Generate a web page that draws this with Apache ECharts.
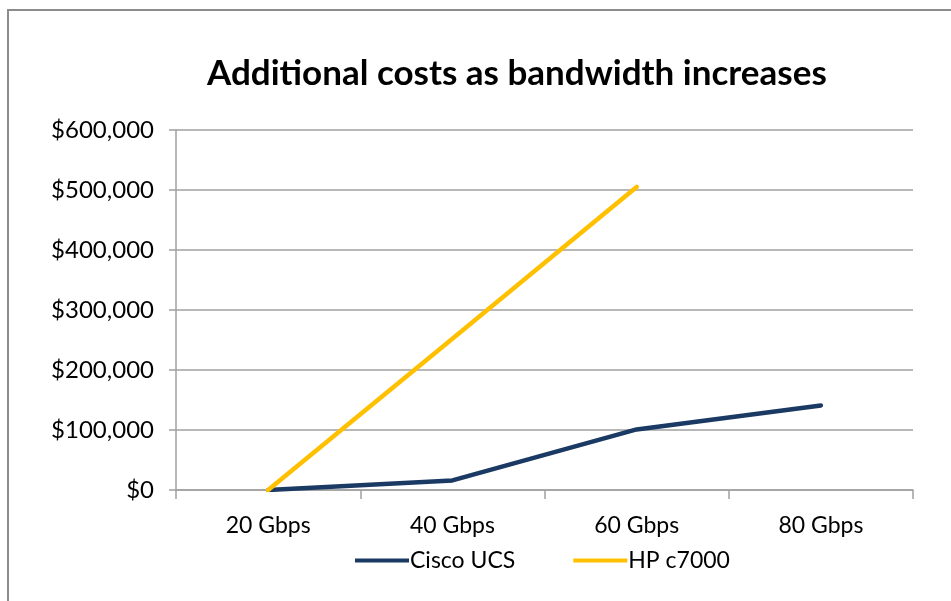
<!DOCTYPE html>
<html>
<head>
    <meta charset="utf-8">
    <title>Additional costs as bandwidth increases</title>
    <script src="https://cdn.jsdelivr.net/npm/echarts@6.0.0/dist/echarts.min.js"></script>
    <style>
        html, body {
            margin: 0;
            padding: 0;
            background: #fff;
        }
        #frame {
            position: absolute;
            left: 7px;
            top: 9px;
            width: 960px;
            height: 610px;
            border-left: 2px solid #8c8c8c;
            border-top: 2px solid #8c8c8c;
        }
        #main {
            position: absolute;
            left: 0;
            top: 0;
            width: 951px;
            height: 601px;
        }
    </style>
</head>
<body>
    <div id="frame"></div>
    <div id="main"></div>
    <script type="text/javascript">
        // data
        var bandwidth = ['20 Gbps', '40 Gbps', '60 Gbps', '80 Gbps'];
        var ciscoUcs = [0, 16000, 101000, 141000];
        var hpC7000 = [0, 252000, 505000, null];

        var myChart = echarts.init(document.getElementById('main'));

        var font = 'Lato, "Open Sans", sans-serif';

        var option = {
            animation: false,
            title: {
                text: 'Additional costs as bandwidth increases',
                left: 202,
                top: 51,
                textStyle: {
                    fontFamily: font,
                    fontSize: 35,
                    fontWeight: 'bold',
                    color: '#000'
                }
            },
            legend: {
                bottom: 24,
                left: 350,
                itemWidth: 54,
                itemHeight: 4,
                itemGap: 58,
                icon: 'rect',
                textStyle: {
                    fontFamily: font,
                    fontSize: 23,
                    color: '#000',
                    padding: [0, 0, 0, -4]
                },
                data: ['Cisco UCS', 'HP c7000']
            },
            grid: {
                left: 176,
                right: 38,
                top: 130,
                bottom: 111,
                containLabel: false
            },
            xAxis: {
                type: 'category',
                data: bandwidth,
                boundaryGap: true,
                axisLine: { lineStyle: { color: '#a0a0a0', width: 1.5 } },
                axisTick: { show: true, length: 9, alignWithLabel: false, lineStyle: { color: '#a0a0a0', width: 1.5 } },
                axisLabel: {
                    fontFamily: font,
                    fontSize: 23,
                    color: '#000',
                    margin: 24
                }
            },
            yAxis: {
                type: 'value',
                min: 0,
                max: 600000,
                interval: 100000,
                axisLine: { show: true, lineStyle: { color: '#a0a0a0', width: 1.5 } },
                axisTick: { show: true, length: 7, lineStyle: { color: '#a0a0a0', width: 1.5 } },
                splitLine: { lineStyle: { color: '#a0a0a0', width: 1.5 } },
                axisLabel: {
                    fontFamily: font,
                    fontSize: 24,
                    color: '#000',
                    margin: 22,
                    formatter: function (v) {
                        return '$' + v.toLocaleString('en-US');
                    }
                }
            },
            series: [
                {
                    name: 'Cisco UCS',
                    type: 'line',
                    data: ciscoUcs,
                    showSymbol: false,
                    symbol: 'none',
                    color: '#1b3a63',
                    lineStyle: { width: 4.5, cap: 'round', join: 'round' }
                },
                {
                    name: 'HP c7000',
                    type: 'line',
                    data: hpC7000,
                    showSymbol: false,
                    symbol: 'none',
                    color: '#ffc000',
                    lineStyle: { width: 4.5, cap: 'round', join: 'round' }
                }
            ]
        };

        myChart.setOption(option);
    </script>
</body>
</html>
